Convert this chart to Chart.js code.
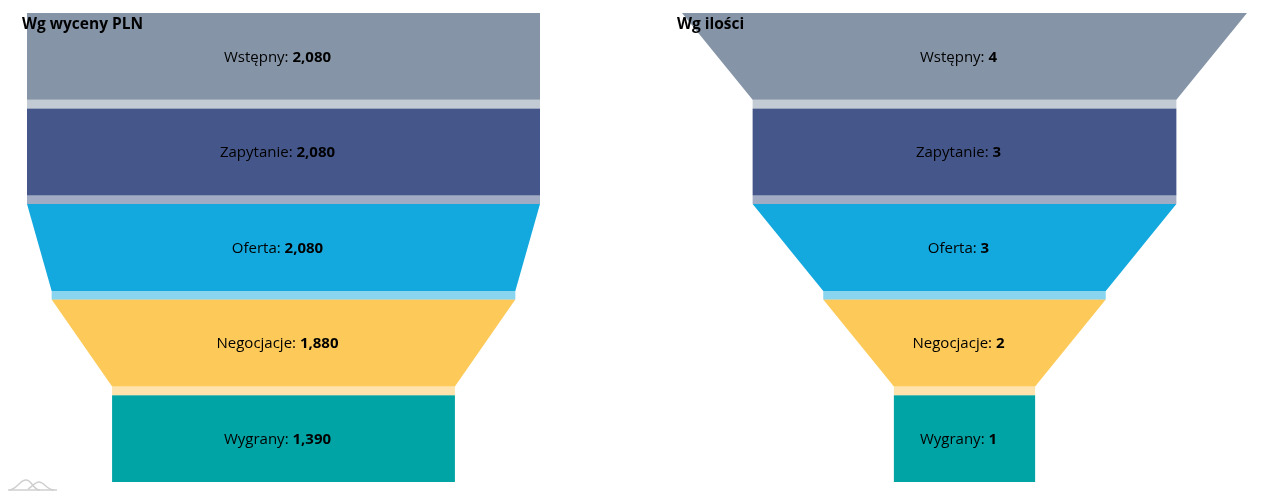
<!DOCTYPE html>
<html><head><meta charset="utf-8">
<script src="https://cdn.jsdelivr.net/npm/chart.js@4.4.1/dist/chart.umd.min.js"></script>
<style>
html,body{margin:0;padding:0;background:#fff;width:1272px;height:492px;overflow:hidden}
.box{position:absolute;top:0;height:492px}
#b1{left:0;width:636px}
#b2{left:636px;width:636px}
</style></head><body>
<div class="box" id="b1"><canvas id="c1"></canvas></div>
<div class="box" id="b2"><canvas id="c2"></canvas></div>
<script>
const stages = ['Wstępny', 'Zapytanie', 'Oferta', 'Negocjacje', 'Wygrany'];
const valuesPLN = [2080, 2080, 2080, 1880, 1390];
const valuesCount = [4, 3, 3, 2, 1];
const titleLeft = 'Wg wyceny PLN';
const titleRight = 'Wg ilości';
const sliceColors = ['#8595a7', '#45578a', '#14a9de', '#fdca5a', '#00a4a4'];

const LINK = 0.1; // link height relative to a slice height
const FONT = '"Open Sans", "Noto Sans", sans-serif';

function buildDatasets(values) {
  const ds = [];
  const n = values.length;
  for (let i = 0; i < n; i++) {
    const top = values[i] / 2;
    const bot = (i < n - 1 ? values[i + 1] : values[i]) / 2;
    const y0 = i * (1 + LINK), y1 = y0 + 1;
    ds.push({
      label: stages[i],
      data: [{x: -top, y: y0}, {x: top, y: y0}, {x: bot, y: y1}, {x: -bot, y: y1}, {x: -top, y: y0}],
      backgroundColor: sliceColors[i], borderColor: 'rgba(0,0,0,0)', borderWidth: 0,
      showLine: true, fill: 'shape', pointRadius: 0, pointHoverRadius: 0, tension: 0
    });
    if (i < n - 1) {
      const y2 = y1 + LINK;
      ds.push({
        label: stages[i] + ' link',
        data: [{x: -bot, y: y1}, {x: bot, y: y1}, {x: bot, y: y2}, {x: -bot, y: y2}, {x: -bot, y: y1}],
        backgroundColor: sliceColors[i] + '80', borderColor: 'rgba(0,0,0,0)', borderWidth: 0,
        showLine: true, fill: 'shape', pointRadius: 0, pointHoverRadius: 0, tension: 0
      });
    }
  }
  return ds;
}

const textPlugin = {
  id: 'funnelText',
  afterDraw(chart, args, opts) {
    const ctx = chart.ctx;
    const xs = chart.scales.x, ys = chart.scales.y;
    ctx.save();
    // title
    ctx.fillStyle = '#000';
    ctx.font = 'bold 15.5px ' + FONT;
    ctx.textBaseline = 'alphabetic';
    ctx.textAlign = 'left';
    ctx.fillText(opts.title, opts.titleX, 29);
    // labels
    const vals = opts.values;
    const cx = xs.getPixelForValue(0) + opts.labelShift;
    ctx.textBaseline = 'middle';
    for (let i = 0; i < vals.length; i++) {
      const cy = ys.getPixelForValue(i * (1 + LINK) + 0.5) + 1;
      const a = stages[i] + ': ';
      const b = vals[i].toLocaleString('en-US');
      ctx.font = '15px ' + FONT;
      const wa = ctx.measureText(a).width;
      ctx.font = 'bold 15px ' + FONT;
      const wb = ctx.measureText(b).width;
      let x = cx - (wa + wb) / 2;
      ctx.font = '15px ' + FONT;
      ctx.fillText(a, x, cy);
      ctx.font = 'bold 15px ' + FONT;
      ctx.fillText(b, x + wa, cy);
    }
    if (opts.logo) {
      ctx.strokeStyle = '#cfcfcf';
      ctx.lineWidth = 1.5;
      ctx.beginPath();
      ctx.moveTo(8, 490); ctx.lineTo(57, 490);
      ctx.stroke();
      ctx.beginPath();
      ctx.moveTo(10, 490);
      ctx.bezierCurveTo(18, 488, 20, 480, 26, 480);
      ctx.bezierCurveTo(32, 480, 33, 490, 40, 490);
      ctx.moveTo(28, 489);
      ctx.bezierCurveTo(33, 486, 35, 482, 39, 482);
      ctx.bezierCurveTo(44, 482, 47, 490, 54, 490);
      ctx.stroke();
    }
    ctx.restore();
  }
};

function makeChart(id, values, title, pad, titleX, logo) {
  const maxV = Math.max(...values);
  const n = values.length;
  return new Chart(document.getElementById(id), {
    type: 'scatter',
    data: {datasets: buildDatasets(values)},
    options: {
      responsive: true, maintainAspectRatio: false, animation: false,
      layout: {padding: pad},
      scales: {
        x: {type: 'linear', display: false, min: -maxV / 2, max: maxV / 2},
        y: {type: 'linear', display: false, reverse: true, min: 0, max: n + (n - 1) * LINK}
      },
      plugins: {
        legend: {display: false}, tooltip: {enabled: false}, title: {display: false},
        funnelText: {title: title, values: values, titleX: titleX, labelShift: -6, logo: logo}
      },
      events: []
    },
    plugins: [textPlugin]
  });
}

makeChart('c1', valuesPLN, titleLeft, {left: 27, right: 96, top: 13, bottom: 10}, 22, true);
makeChart('c2', valuesCount, titleRight, {left: 46, right: 25, top: 13, bottom: 10}, 41, false);
</script>
</body></html>
